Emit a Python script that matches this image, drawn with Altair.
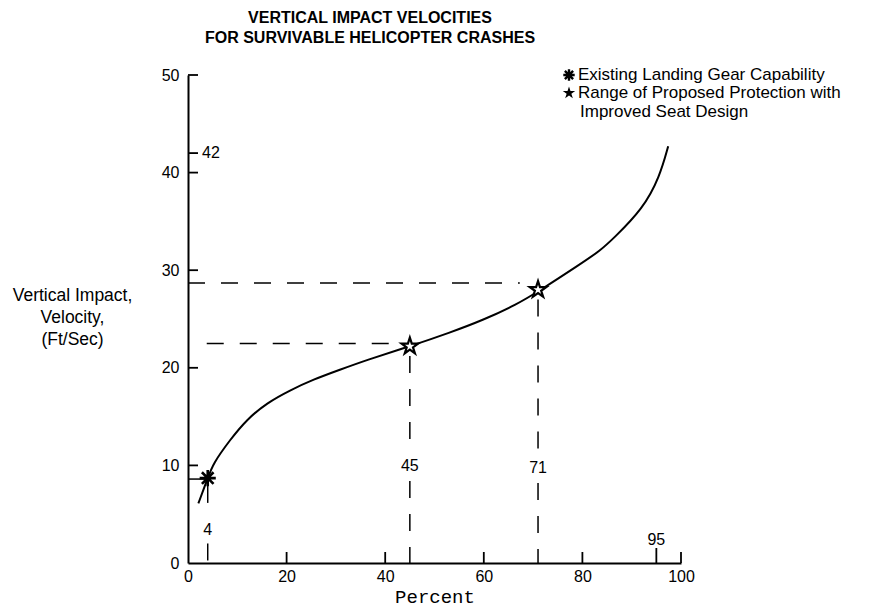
import altair as alt
import pandas as pd

# ---- data ----
curve_x = [2.1, 4.0, 5.1, 8.5, 11.9, 16.0, 20.7, 25.4, 30.8, 36.2, 45.0, 53.1, 59.9, 66.7, 71.0, 79.5, 83.6, 86.2, 92.3, 95.7, 97.4]
curve_y = [6.1, 8.7, 10.2, 12.6, 14.7, 16.4, 17.7, 18.8, 19.8, 20.8, 22.2, 23.6, 24.9, 26.5, 27.8, 30.6, 32.0, 33.2, 36.3, 39.6, 42.7]

existing_x = [4]
existing_y = [8.7]
proposed_x = [45, 71]
proposed_y = [22.2, 28.0]

# vertical dashed segments (x, from, to)
vseg_x = [4, 4, 45, 45, 71, 71]
vseg_y1 = [7.9, 2.0, 21.2, 8.4, 27.0, 8.2]
vseg_y2 = [4.8, 0.0, 11.4, 0.0, 11.2, 0.0]
# horizontal dashed segments (y, from, to)
hseg_y = [28.7, 22.5]
hseg_x1 = [0.0, 3.8]
hseg_x2 = [67.3, 43.6]
# short solid leader to the asterisk
lead_y = [8.6]
lead_x1 = [0.0]
lead_x2 = [3.5]

ann_x = [4, 45, 71, 95]
ann_y = [3.4, 9.9, 9.7, 2.4]
ann_text = ["4", "45", "71", "95"]

x_ticks = [0, 20, 40, 60, 80, 100]
x_tick_marks = [20, 40, 60, 80, 100]
long_tick = [95]
y_ticks = [0, 10, 20, 30, 40, 50]
y_tick_marks = [10, 20, 30, 40, 42, 50]
y_extra = [42]

title_lines = ["VERTICAL IMPACT VELOCITIES", "FOR SURVIVABLE HELICOPTER CRASHES"]
y_title = ["Vertical Impact,", "Velocity,", "(Ft/Sec)"]
x_title = "Percent"
legend_lines = ["Existing Landing Gear Capability", "Range of Proposed Protection with", "Improved Seat Design"]

# ---- styling ----
W, H = 493, 488
FONT = "Liberation Sans"
STAR = "M0,-1L0.225,-0.309L0.951,-0.309L0.363,0.118L0.588,0.809L0,0.382L-0.588,0.809L-0.363,0.118L-0.951,-0.309L-0.225,-0.309Z"
ASTER = "M-1,0L1,0M0,-1L0,1M-0.72,-0.72L0.72,0.72M-0.72,0.72L0.72,-0.72"

xs = alt.Scale(domain=[0, 100], nice=False, zero=False)
ys = alt.Scale(domain=[0, 50], nice=False, zero=False)

curve_df = pd.DataFrame({"x": curve_x, "y": curve_y})

curve = alt.Chart(curve_df).mark_line(
    color="black", strokeWidth=2, interpolate="basis"
).encode(
    x=alt.X("x:Q", scale=xs, axis=alt.Axis(
        values=x_ticks, ticks=False, grid=False, domain=True, domainColor="black",
        domainWidth=2, labelFont=FONT, labelFontSize=16, labelColor="black",
        labelPadding=5, labelFlush=False,
        title=x_title, titleFont="Courier New, Liberation Mono, monospace", titleFontSize=19,
        titleFontWeight="normal", titleColor="black", titleY=33, titleBaseline="middle")),
    y=alt.Y("y:Q", scale=ys, axis=alt.Axis(
        values=y_ticks, ticks=False, grid=False, domain=True, domainColor="black",
        domainWidth=2, labelFont=FONT, labelFontSize=16, labelColor="black",
        labelPadding=9, labelFlush=False,
        title=y_title, titleAngle=0, titleAlign="center", titleBaseline="middle",
        titleX=-116, titleY=220, titleLineHeight=22, titleFont=FONT, titleFontSize=17.5,
        titleFontWeight="normal", titleColor="black")),
)

vdf = pd.DataFrame({"x": vseg_x, "y1": vseg_y1, "y2": vseg_y2})
vdash = alt.Chart(vdf).mark_rule(color="black", strokeWidth=1.5, strokeDash=[17, 16]).encode(
    x=alt.X("x:Q", scale=xs, axis=None),
    y=alt.Y("y1:Q", scale=ys, axis=None),
    y2="y2:Q",
)

hdf = pd.DataFrame({"y": hseg_y, "x1": hseg_x1, "x2": hseg_x2})
hdash = alt.Chart(hdf).mark_rule(color="black", strokeWidth=1.5, strokeDash=[17, 16]).encode(
    y=alt.Y("y:Q", scale=ys, axis=None),
    x=alt.X("x1:Q", scale=xs, axis=None),
    x2="x2:Q",
)

ldf = pd.DataFrame({"y": lead_y, "x1": lead_x1, "x2": lead_x2})
lead = alt.Chart(ldf).mark_rule(color="black", strokeWidth=1.5).encode(
    y=alt.Y("y:Q", scale=ys, axis=None),
    x=alt.X("x1:Q", scale=xs, axis=None),
    x2="x2:Q",
)

ytk = alt.Chart(pd.DataFrame({"v": y_tick_marks})).mark_rule(color="black", strokeWidth=1.8).encode(
    y=alt.Y("v:Q", scale=ys, axis=None),
    x=alt.value(0), x2=alt.value(10),
)
xtk = alt.Chart(pd.DataFrame({"v": x_tick_marks})).mark_rule(color="black", strokeWidth=1.8).encode(
    x=alt.X("v:Q", scale=xs, axis=None),
    y=alt.value(H), y2=alt.value(H - 11),
)
xtk95 = alt.Chart(pd.DataFrame({"v": long_tick})).mark_rule(color="black", strokeWidth=1.8).encode(
    x=alt.X("v:Q", scale=xs, axis=None),
    y=alt.value(H), y2=alt.value(H - 15),
)

ann = alt.Chart(pd.DataFrame({"x": ann_x, "y": ann_y, "t": ann_text})).mark_text(
    font=FONT, fontSize=16, color="black", baseline="middle", align="center"
).encode(
    x=alt.X("x:Q", scale=xs, axis=None),
    y=alt.Y("y:Q", scale=ys, axis=None),
    text="t:N",
)

y42 = alt.Chart(pd.DataFrame({"y": y_extra, "t": [str(v) for v in y_extra]})).mark_text(
    font=FONT, fontSize=16, color="black", baseline="middle", align="left", dx=14
).encode(
    x=alt.value(0),
    y=alt.Y("y:Q", scale=ys, axis=None),
    text="t:N",
)

asterisk = alt.Chart(pd.DataFrame({"x": existing_x, "y": existing_y})).mark_point(
    shape=ASTER, size=260, filled=False, color="black", strokeWidth=2.6, opacity=1
).encode(
    x=alt.X("x:Q", scale=xs, axis=None),
    y=alt.Y("y:Q", scale=ys, axis=None),
)

stars = alt.Chart(pd.DataFrame({"x": proposed_x, "y": proposed_y})).mark_point(
    shape=STAR, size=300, filled=True, fill="white", stroke="black", strokeWidth=2.2, opacity=1
).encode(
    x=alt.X("x:Q", scale=xs, axis=None),
    y=alt.Y("y:Q", scale=ys, axis=None),
)

# legend drawn as text + symbols
LX_SYM, LX_TXT = 381, 390
LFS = 17
leg_t1 = alt.Chart(pd.DataFrame({"t": [legend_lines[0]]})).mark_text(
    font=FONT, fontSize=LFS, color="black", align="left", baseline="middle"
).encode(x=alt.value(LX_TXT), y=alt.value(0), text="t:N")
leg_t2 = alt.Chart(pd.DataFrame({"t": [legend_lines[1]]})).mark_text(
    font=FONT, fontSize=LFS, color="black", align="left", baseline="middle"
).encode(x=alt.value(LX_TXT), y=alt.value(18), text="t:N")
leg_t3 = alt.Chart(pd.DataFrame({"t": [legend_lines[2]]})).mark_text(
    font=FONT, fontSize=LFS, color="black", align="left", baseline="middle"
).encode(x=alt.value(LX_TXT + 2), y=alt.value(36.5), text="t:N")
leg_s1 = alt.Chart(pd.DataFrame({"t": [legend_lines[0]]})).mark_point(
    shape=ASTER, size=130, filled=False, color="black", strokeWidth=2.4, opacity=1
).encode(x=alt.value(LX_SYM), y=alt.value(0))
leg_s2 = alt.Chart(pd.DataFrame({"t": [legend_lines[1]]})).mark_point(
    shape=STAR, size=170, filled=True, color="black", opacity=1
).encode(x=alt.value(LX_SYM), y=alt.value(18))

chart = alt.layer(
    curve, vdash, hdash, lead, ytk, xtk, xtk95, ann, y42, stars, asterisk,
    leg_t1, leg_t2, leg_t3, leg_s1, leg_s2,
).resolve_axis(
    x="independent", y="independent"
).properties(
    width=W, height=H,
    padding={"left": 180, "top": 67, "right": 181, "bottom": 52},
    autosize=alt.AutoSizeParams(type="none"),
    title=alt.TitleParams(
        text=title_lines, anchor="start", align="center", dx=182, frame="group",
        offset=18, font=FONT, fontSize=16, fontWeight="bold", color="black", lineHeight=20,
    ),
).configure(background="white").configure_view(stroke=None)

chart.save("out.html", embed_options={"renderer": "svg", "actions": False})
